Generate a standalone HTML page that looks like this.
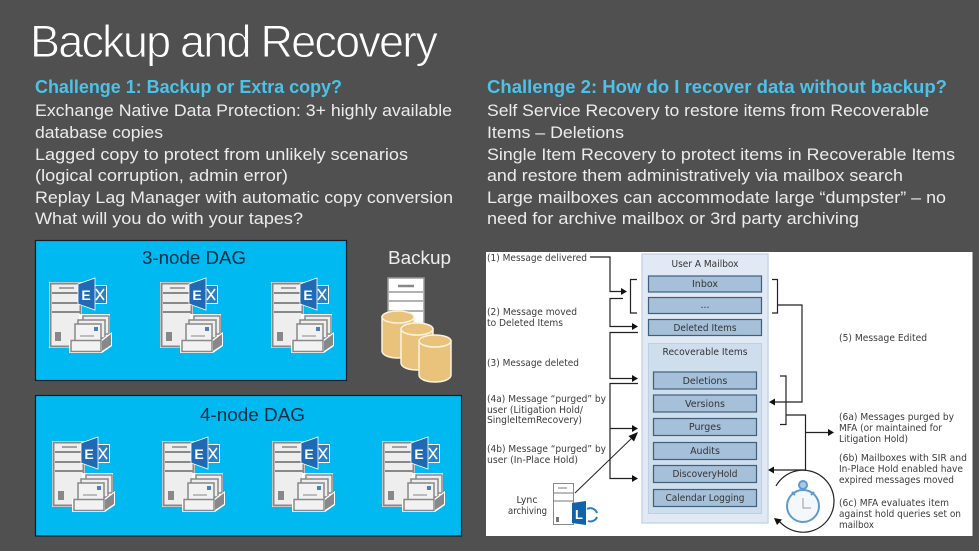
<!DOCTYPE html>
<html><head><meta charset="utf-8"><style>
html,body{margin:0;padding:0;background:#505050;width:979px;height:551px;overflow:hidden}
svg{display:block}
.t{font:16.5px "Liberation Sans",sans-serif;fill:#ececec}
.h{font:bold 18px "Liberation Sans",sans-serif;fill:#4cc2e8}
.d{font:18.5px "Liberation Sans",sans-serif;fill:#0b2c45}
.s{font:9.5px "DejaVu Sans",sans-serif;fill:#3a3a3a}
.m{font:9.5px "DejaVu Sans",sans-serif;fill:#333;text-anchor:middle}
.e{font:bold 14px "Liberation Sans",sans-serif;fill:#fff;text-anchor:middle}
.b{fill:#a5c0d8;stroke:#3f5f7a;stroke-width:1.2}
.c{fill:none;stroke:#222;stroke-width:1.2}
.soft{filter:blur(.35px)}
</style></head><body>
<svg width="979" height="551" viewBox="0 0 979 551" xmlns="http://www.w3.org/2000/svg">
<defs>
<symbol id="srv" width="66" height="76" viewBox="0 0 66 76" overflow="visible">
<rect x="1" y="4" width="33" height="66" fill="#fff"/>
<rect x="2.500" y="5.500" width="30" height="63" fill="#eee" stroke="#888" stroke-width="2"/>
<path d="M4 15H32M4 25H32M4 34H32" stroke="#888" stroke-width="2"/>
<path d="M11 10H26" stroke="#888" stroke-width="1.500"/>
<rect x="7" y="54" width="6" height="9" fill="#888"/>
<path d="M31 36H62V60L31 62Z" fill="#fff"/>
<path d="M35 38H61V56H35Z" fill="#eee" stroke="#888" stroke-width="1.500"/>
<path d="M30 42H57V60H30Z" fill="#eee" stroke="#888" stroke-width="1.500"/>
<rect x="27" y="46" width="26" height="18" fill="#f2f2f2" stroke="#888" stroke-width="1.500"/>
<rect x="46" y="49" width="4" height="4" fill="#4a7fb8"/>
<path d="M32 58H46" stroke="#999" stroke-width="1.200"/>
<path d="M21 62H53L64 54V68L54 75H21Z" fill="#fff"/>
<rect x="23" y="62.500" width="30" height="11" fill="#f2f2f2" stroke="#888" stroke-width="1.500"/>
<path d="M54 63L63 56V67L54 73Z" fill="#888"/>
<rect x="45" y="7" width="14" height="19" fill="#fff"/>
<rect x="46" y="8" width="12" height="17" fill="#2d7fc4"/>
<path d="M48 11L56 22M56 11L48 22" stroke="#fff" stroke-width="1.500"/>
<path d="M30 6L47 0V32L30 26Z" fill="#1f69b5" stroke="#fff" stroke-width=".8"/>
</symbol>
<symbol id="cyl" width="36" height="50" viewBox="0 0 36 50" overflow="visible">
<path d="M1 7V41C1 45 8 48 17 48S33 45 33 41V7Z" fill="#e9c27c" stroke="#fbf3df" stroke-width="1.500"/>
<ellipse cx="17" cy="7" rx="16" ry="6" fill="#e9c27c" stroke="#fbf3df" stroke-width="1.500"/>
</symbol>
</defs>

<rect width="979" height="551" fill="#505050"/>

<text x="30" y="57" font-family="Liberation Sans, sans-serif" font-size="45" fill="#fff" stroke="#505050" stroke-width=".9" textLength="408" lengthAdjust="spacing">Backup and Recovery</text>

<text class="h" x="35" y="93" textLength="307" lengthAdjust="spacingAndGlyphs">Challenge 1: Backup or Extra copy?</text>
<text class="h" x="487" y="93" textLength="460" lengthAdjust="spacingAndGlyphs">Challenge 2: How do I recover data without backup?</text>

<text class="t" x="35" y="116" textLength="417" lengthAdjust="spacingAndGlyphs">Exchange Native Data Protection: 3+ highly available</text>
<text class="t" x="35" y="138" textLength="128" lengthAdjust="spacingAndGlyphs">database copies</text>
<text class="t" x="35" y="160" textLength="373" lengthAdjust="spacingAndGlyphs">Lagged copy to protect from unlikely scenarios</text>
<text class="t" x="35" y="181" textLength="253" lengthAdjust="spacingAndGlyphs">(logical corruption, admin error)</text>
<text class="t" x="35" y="203" textLength="418" lengthAdjust="spacingAndGlyphs">Replay Lag Manager with automatic copy conversion</text>
<text class="t" x="35" y="224" textLength="268" lengthAdjust="spacingAndGlyphs">What will you do with your tapes?</text>

<text class="t" x="487" y="116" textLength="442" lengthAdjust="spacingAndGlyphs">Self Service Recovery to restore items from Recoverable</text>
<text class="t" x="487" y="138" textLength="137" lengthAdjust="spacingAndGlyphs">Items – Deletions</text>
<text class="t" x="487" y="160" textLength="468" lengthAdjust="spacingAndGlyphs">Single Item Recovery to protect items in Recoverable Items</text>
<text class="t" x="487" y="181" textLength="416" lengthAdjust="spacingAndGlyphs">and restore them administratively via mailbox search</text>
<text class="t" x="487" y="203" textLength="459" lengthAdjust="spacingAndGlyphs">Large mailboxes can accommodate large “dumpster” – no</text>
<text class="t" x="487" y="224" textLength="372" lengthAdjust="spacingAndGlyphs">need for archive mailbox or 3rd party archiving</text>

<!-- DAG boxes -->
<rect x="35.500" y="240.500" width="311" height="140" fill="#00b9f1" stroke="#111d28" stroke-width="1.200"/>
<rect x="35.500" y="395.500" width="426" height="140.500" fill="#00b9f1" stroke="#111d28" stroke-width="1.200"/>
<text class="d" x="142" y="264" textLength="104" lengthAdjust="spacingAndGlyphs">3-node DAG</text>
<text class="d" x="200" y="421" textLength="105" lengthAdjust="spacingAndGlyphs">4-node DAG</text>
<text x="388" y="264" font-family="Liberation Sans, sans-serif" font-size="18" fill="#eee" textLength="63" lengthAdjust="spacingAndGlyphs">Backup</text>

<use href="#srv" x="48" y="278"/><text class="e" x="86" y="300">E</text>
<use href="#srv" x="159" y="278"/><text class="e" x="197" y="300">E</text>
<use href="#srv" x="270" y="278"/><text class="e" x="308" y="300">E</text>
<use href="#srv" x="51" y="437"/><text class="e" x="89" y="459">E</text>
<use href="#srv" x="161" y="437"/><text class="e" x="199" y="459">E</text>
<use href="#srv" x="271" y="437"/><text class="e" x="309" y="459">E</text>
<use href="#srv" x="381" y="437"/><text class="e" x="419" y="459">E</text>

<!-- Backup icon -->
<rect x="388" y="278" width="36" height="60" fill="#fff" stroke="#999" stroke-width="1.500"/>
<path d="M389 292H423M389 301H423M389 311H423" stroke="#999" stroke-width="1.500"/>
<path d="M398 286H414" stroke="#888" stroke-width="2.500"/>
<use href="#cyl" x="381" y="310"/>
<use href="#cyl" x="400" y="322"/>
<use href="#cyl" x="418" y="334"/>

<!-- White diagram panel -->
<rect x="486" y="252" width="486.500" height="284" fill="#fff"/>

<g class="soft">
<!-- Mailbox -->
<rect x="642" y="254" width="126" height="269" fill="#e0e9f4" stroke="#c7d6e8" stroke-width="1.500"/>
<text class="m" x="705" y="267" textLength="67" lengthAdjust="spacingAndGlyphs">User A Mailbox</text>
<rect class="b" x="648.500" y="276" width="113" height="16"/>
<text class="m" x="705" y="287">Inbox</text>
<rect class="b" x="648.500" y="297.500" width="113" height="16"/>
<text class="m" x="705" y="308">...</text>
<rect class="b" x="648.500" y="319.500" width="113" height="16"/>
<text class="m" x="705" y="331" textLength="63" lengthAdjust="spacingAndGlyphs">Deleted Items</text>
<rect x="648.500" y="343.500" width="113" height="170" fill="#cfdeed" stroke="#bdd0e3"/>
<text class="m" x="705" y="355" textLength="85" lengthAdjust="spacingAndGlyphs">Recoverable Items</text>
<rect class="b" x="653.500" y="372" width="103" height="17"/>
<text class="m" x="705" y="384">Deletions</text>
<rect class="b" x="653.500" y="395" width="103" height="17"/>
<text class="m" x="705" y="407">Versions</text>
<rect class="b" x="653.500" y="418.500" width="103" height="17"/>
<text class="m" x="705" y="430">Purges</text>
<rect class="b" x="653.500" y="442.500" width="103" height="17"/>
<text class="m" x="705" y="454">Audits</text>
<rect class="b" x="653.500" y="465.500" width="103" height="17"/>
<text class="m" x="705" y="477" textLength="65" lengthAdjust="spacingAndGlyphs">DiscoveryHold</text>
<rect class="b" x="653.500" y="489.500" width="103" height="17"/>
<text class="m" x="705" y="501" textLength="79" lengthAdjust="spacingAndGlyphs">Calendar Logging</text>

<!-- Left connectors -->
<g class="c">
<path d="M590 257H610V291.500H623"/>
<path d="M637 279.500H630.500V313H637"/>
<path d="M623 298.500H610V326.500H634"/>
<path d="M638 332.500H610V378.500H634"/>
<path d="M638 383.500H610V478.500H634"/>
<path d="M610 428.500H634"/>
<path d="M575 493L634 436" stroke-width="1"/>
</g>
<g fill="#111">
<path d="M627 291.500L621 288V295Z"/>
<path d="M638 326.500L632 323V330Z"/>
<path d="M638 378.500L632 375V382Z"/>
<path d="M638 428.500L632 425V432Z"/>
<path d="M638 478.500L632 475V482Z"/>
<path d="M638 432L628.500 436L634 441.500Z"/>
</g>

<!-- Right connectors -->
<g class="c">
<path d="M772 279.500H777.500V313H772"/>
<path d="M777.500 305H802V402H774"/>
<path d="M780 376H786V424.500H780"/>
<path d="M786 415H805.500V470H773"/>
<path d="M805.500 432.500H830"/>
<path d="M776 486A31 31 0 1 1 778 519.500"/>
</g>
<g fill="#111">
<path d="M769 402L775 398.500V405.500Z"/>
<path d="M768 470L774 466.500V473.500Z"/>
<path d="M834 432.500L828 429V436Z"/>
<path d="M774 518L782 519.500L777 525Z"/>
</g>

<!-- Stopwatch -->
<g fill="none" stroke="#5d9ad0">
<circle cx="803" cy="506" r="16" stroke-width="2" fill="#f4f8fc"/>
<circle cx="803" cy="485" r="4" stroke-width="2" fill="#a8cbe6"/>
<path d="M803 489V491" stroke-width="3"/>
<path d="M792 492L795 495M814 492L811 495" stroke-width="2"/>
</g>
<path d="M803 498V508H811" fill="none" stroke="#999" stroke-width="1"/>

<!-- Lync -->
<rect x="553.500" y="483.500" width="20" height="41" fill="#fff" stroke="#888" stroke-width="1"/>
<path d="M554 493H573M554 501H573M558 488H567" stroke="#777" stroke-width="1"/>
<rect x="556" y="517" width="3" height="5" fill="#777"/>
<path d="M572 503L586 501V525L572 523Z" fill="#1262a8"/>
<text x="579" y="519" font-family="Liberation Sans, sans-serif" font-size="13" font-weight="bold" fill="#fff" text-anchor="middle">L</text>
<path d="M587 509A7 7 0 0 1 597 513M597 517A7 7 0 0 1 588 521" fill="none" stroke="#2c7fc0" stroke-width="2"/>
<text class="m" x="527" y="503" textLength="21" lengthAdjust="spacingAndGlyphs">Lync</text>
<text class="m" x="527.500" y="514" textLength="39" lengthAdjust="spacingAndGlyphs">archiving</text>

<!-- Left labels -->
<text class="s" x="487" y="261" textLength="100" lengthAdjust="spacingAndGlyphs">(1) Message delivered</text>
<text class="s" x="487" y="315" textLength="90" lengthAdjust="spacingAndGlyphs">(2) Message moved</text>
<text class="s" x="487" y="326" textLength="76" lengthAdjust="spacingAndGlyphs">to Deleted Items</text>
<text class="s" x="487" y="366" textLength="92" lengthAdjust="spacingAndGlyphs">(3) Message deleted</text>
<text class="s" x="487" y="402" textLength="119" lengthAdjust="spacingAndGlyphs">(4a) Message “purged” by</text>
<text class="s" x="487" y="413" textLength="96" lengthAdjust="spacingAndGlyphs">user (Litigation Hold/</text>
<text class="s" x="487" y="423" textLength="95" lengthAdjust="spacingAndGlyphs">SingleItemRecovery)</text>
<text class="s" x="487" y="452" textLength="119" lengthAdjust="spacingAndGlyphs">(4b) Message “purged” by</text>
<text class="s" x="487" y="463" textLength="91" lengthAdjust="spacingAndGlyphs">user (In-Place Hold)</text>

<!-- Right labels -->
<text class="s" x="839" y="341" textLength="88" lengthAdjust="spacingAndGlyphs">(5) Message Edited</text>
<text class="s" x="839" y="420" textLength="115" lengthAdjust="spacingAndGlyphs">(6a) Messages purged by</text>
<text class="s" x="839" y="431" textLength="103" lengthAdjust="spacingAndGlyphs">MFA (or maintained for</text>
<text class="s" x="839" y="442" textLength="69" lengthAdjust="spacingAndGlyphs">Litigation Hold)</text>
<text class="s" x="839" y="461" textLength="128" lengthAdjust="spacingAndGlyphs">(6b) Mailboxes with SIR and</text>
<text class="s" x="839" y="472" textLength="124" lengthAdjust="spacingAndGlyphs">In-Place Hold enabled have</text>
<text class="s" x="839" y="483" textLength="115" lengthAdjust="spacingAndGlyphs">expired messages moved</text>
<text class="s" x="839" y="506" textLength="110" lengthAdjust="spacingAndGlyphs">(6c) MFA evaluates item</text>
<text class="s" x="839" y="517" textLength="122" lengthAdjust="spacingAndGlyphs">against hold queries set on</text>
<text class="s" x="839" y="528" textLength="35" lengthAdjust="spacingAndGlyphs">mailbox</text>
</g>
</svg>
</body></html>
